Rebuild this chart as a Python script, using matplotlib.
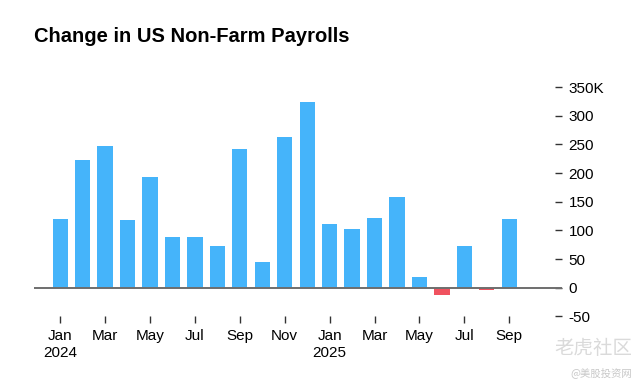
import matplotlib.pyplot as plt
import numpy as np

# monthly change in non-farm payrolls, thousands (Jan 2024 - Sep 2025)
months = ['Jan', 'Feb', 'Mar', 'Apr', 'May', 'Jun', 'Jul', 'Aug', 'Sep', 'Oct', 'Nov', 'Dec',
          'Jan', 'Feb', 'Mar', 'Apr', 'May', 'Jun', 'Jul', 'Aug', 'Sep']
payrolls = [120, 223, 247, 119, 194, 88, 89, 72, 242, 45, 263, 324,
            112, 103, 121, 159, 19, -13, 73, -4, 120]
tick_labels = ['Jan\n2024', 'Mar', 'May', 'Jul', 'Sep', 'Nov',
               'Jan\n2025', 'Mar', 'May', 'Jul', 'Sep']
yticks = [-50, 0, 50, 100, 150, 200, 250, 300, 350]
ytick_labels = ['-50', '0', '50', '100', '150', '200', '250', '300', '350K']

plt.rcParams['font.family'] = ['Liberation Sans', 'Noto Sans CJK SC', 'DejaVu Sans']

fig = plt.figure(figsize=(6.44, 3.86), dpi=100)
ax = fig.add_axes([0.053, 0.1806, 0.82, 0.5934])

x = np.arange(len(payrolls))
vals = np.array(payrolls)
colors = np.where(vals >= 0, '#45b4fa', '#f0525f')
ax.bar(x, vals, width=0.68, color=colors, zorder=2)
ax.axhline(0, color='#6e6e6e', lw=1.4, zorder=3)

ax.set_xlim(-1.16, 22.36)
ax.set_ylim(-50, 350)

for s in ax.spines.values():
    s.set_visible(False)

ax.set_xticks(x[::2])
ax.set_xticklabels(tick_labels, fontsize=11, linespacing=1.25)
ax.tick_params(axis='x', length=5, width=1, color='#333333', pad=4)

ax.yaxis.tick_right()
ax.set_yticks(yticks)
ax.set_yticklabels(ytick_labels, fontsize=11)
ax.tick_params(axis='y', direction='in', length=5, width=1, color='#333333', pad=4.5,
               right=True, left=False)

fig.text(0.053, 0.905, 'Change in US Non-Farm Payrolls', fontsize=14.5, fontweight='bold',
         va='center', ha='left')

# watermark
fig.text(0.982, 0.098, '老虎社区', fontsize=14, color='#dadada', ha='right', va='center',
         family=['Noto Sans CJK SC', 'DejaVu Sans'])
fig.text(0.982, 0.035, '@美股投资网', fontsize=7.5, color='#c8c8c8', ha='right', va='center',
         family=['Noto Sans CJK SC', 'DejaVu Sans'])

fig.savefig('out.png', dpi=100)
